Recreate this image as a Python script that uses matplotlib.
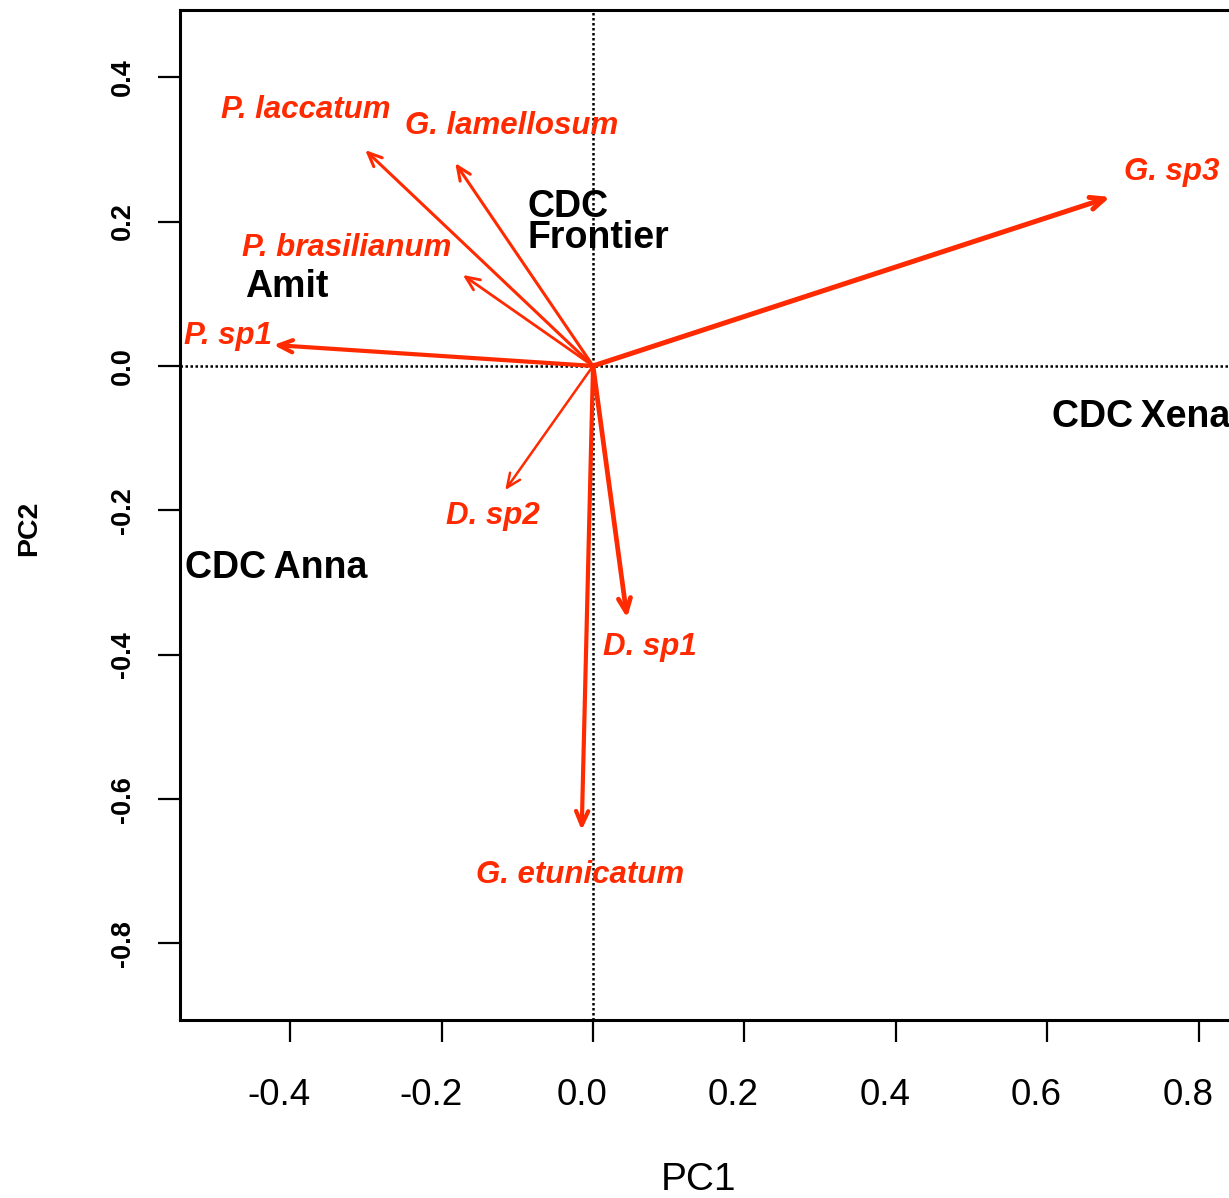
import matplotlib.pyplot as plt
import matplotlib.transforms as mtransforms
import numpy as np

plt.rcParams['font.family'] = ['Liberation Sans', 'DejaVu Sans']

# species loadings (arrow tips)
species = ['P. laccatum', 'G. lamellosum', 'P. brasilianum', 'P. sp1',
           'G. sp3', 'D. sp2', 'D. sp1', 'G. etunicatum']
pc1 = [-0.301, -0.182, -0.172, -0.422, 0.683, -0.116, 0.045, -0.015]
pc2 = [0.299, 0.281, 0.126, 0.029, 0.234, -0.172, -0.349, -0.643]
# where the species names sit
lab_x = [-0.380, -0.108, -0.326, -0.482, 0.765, -0.132, 0.075, -0.017]
lab_y = [0.354, 0.332, 0.163, 0.041, 0.268, -0.208, -0.390, -0.705]
arrow_lw = [2.2, 2.2, 2.0, 3.0, 3.6, 1.8, 3.4, 3.0]

# site scores (thin space, the original sets these tight)
sites = ['CDC\nFrontier', 'Amit', 'CDC\u2009Xena', 'CDC\u2009Anna']
site_x = [-0.087, -0.405, 0.606, -0.539]
site_y = [0.199, 0.110, -0.071, -0.280]
site_ha = ['left', 'center', 'left', 'left']

red = '#ff2a00'

fig = plt.figure(figsize=(12.29, 11.98), dpi=100)
ax = fig.add_axes([180/1229, 1 - 1020/1198, 1055/1229, 1010/1198])

ax.set_xlim(-0.5456, 0.848)
ax.set_ylim(-0.906, 0.493)

ax.axhline(0, color='black', ls=(0, (1, 1)), lw=1.8, zorder=1)
ax.axvline(0, color='black', ls=(0, (1, 1)), lw=1.8, zorder=1)

for i in range(len(species)):
    ax.annotate('', xy=(pc1[i], pc2[i]), xytext=(0, 0),
                arrowprops=dict(arrowstyle='->,head_length=0.5,head_width=0.22',
                                color=red, lw=arrow_lw[i], shrinkA=0, shrinkB=0,
                                mutation_scale=20), zorder=3)
    ax.text(lab_x[i], lab_y[i], species[i], color=red, fontsize=22.5,
            fontweight='bold', fontstyle='italic', ha='center', va='center', zorder=4)

for i in range(len(sites)):
    ax.text(site_x[i], site_y[i], sites[i], color='black', fontsize=27,
            fontweight='bold', ha=site_ha[i], va='center', linespacing=0.82, zorder=4)

ax.spines['right'].set_visible(False)
for s in ['left', 'bottom', 'top']:
    ax.spines[s].set_linewidth(2.2)

ax.set_xticks([-0.4, -0.2, 0.0, 0.2, 0.4, 0.6, 0.8])
ax.set_xticklabels(['-0.4', '-0.2', '0.0', '0.2', '0.4', '0.6', '0.8'], fontsize=26.5)
ax.set_yticks([0.4, 0.2, 0.0, -0.2, -0.4, -0.6, -0.8])
ax.set_yticklabels(['0.4', '0.2', '0.0', '-0.2', '-0.4', '-0.6', '-0.8'],
                   fontsize=19.5, fontweight='bold', rotation=90, va='center')
ax.tick_params(axis='x', length=16, width=1.6, pad=26)
ax.tick_params(axis='y', length=16, width=1.6, pad=16)

# x labels sit a little left of their ticks in the original
shift = mtransforms.ScaledTranslation(-11/100, 0, fig.dpi_scale_trans)
for lbl in ax.get_xticklabels():
    lbl.set_transform(lbl.get_transform() + shift)

fig.text(698/1229, 1 - 1180/1198, 'PC1', fontsize=28, ha='center', va='center')
fig.text(29/1229, 1 - 528/1198, 'PC2', fontsize=20.5, fontweight='bold',
         rotation=90, ha='center', va='center')

plt.savefig('out.png', dpi=100)
